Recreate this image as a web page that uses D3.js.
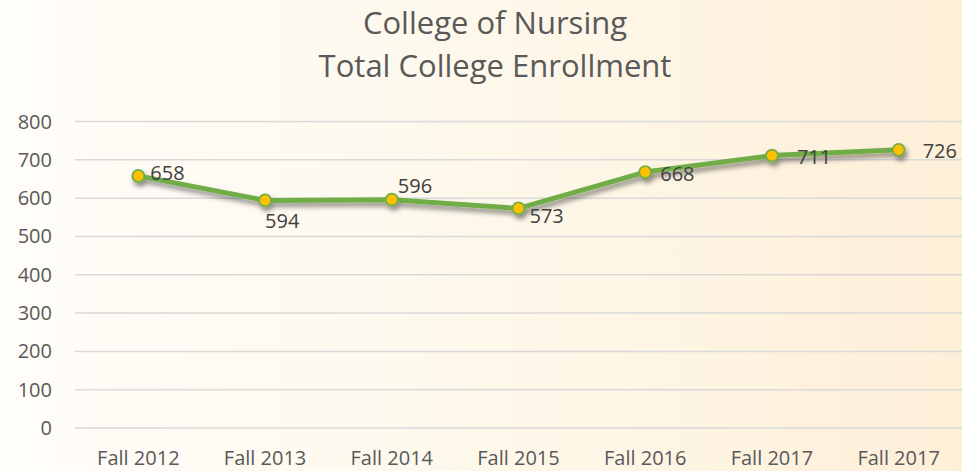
<!DOCTYPE html>
<html>
<head>
<meta charset="utf-8">
<script src="https://cdn.jsdelivr.net/npm/d3@7"></script>
<style>
  body { margin: 0; }
  svg { display: block; font-family: "Open Sans", sans-serif; }
  .grid line { stroke: #d9d9d9; stroke-width: 1.5; }
  .tick-label { fill: #595959; font-size: 20px; }
  .title { fill: #595959; font-size: 31px; }
  .value { fill: #404040; font-size: 20px; }
</style>
</head>
<body>
<svg></svg>
<script>
const categories = ["Fall 2012","Fall 2013","Fall 2014","Fall 2015","Fall 2016","Fall 2017","Fall 2017 "]
const enrollment = [658, 594, 596, 573, 668, 711, 726]
const yTicks = [0, 100, 200, 300, 400, 500, 600, 700, 800]
const titleLines = ["College of Nursing", "Total College Enrollment"]

const width = 962
const height = 471

const svg = d3.select("svg")
  .attr("width", width)
  .attr("height", height)

const defs = svg.append("defs")

const grad = defs.append("linearGradient")
  .attr("id", "bg")
  .attr("x1", "0%").attr("y1", "0%")
  .attr("x2", "100%").attr("y2", "0%")
grad.append("stop").attr("offset", "0%").attr("stop-color", "#fffdf9")
grad.append("stop").attr("offset", "50%").attr("stop-color", "#fef8eb")
grad.append("stop").attr("offset", "100%").attr("stop-color", "#feefd8")

const shadow = defs.append("filter")
  .attr("id", "shadow")
  .attr("x", "-10%").attr("y", "-50%")
  .attr("width", "120%").attr("height", "200%")
shadow.append("feDropShadow")
  .attr("dx", 2).attr("dy", 4)
  .attr("stdDeviation", 2.6)
  .attr("flood-color", "#000")
  .attr("flood-opacity", 0.45)

svg.append("rect")
  .attr("width", width)
  .attr("height", height)
  .attr("fill", "url(#bg)")

const x = d3.scaleBand()
  .domain(categories)
  .range([75, 962])

const y = d3.scaleLinear()
  .domain([0, 800])
  .range([428, 121.5])

// title
svg.selectAll("text.title")
  .data(titleLines)
  .enter().append("text")
  .attr("class", "title")
  .attr("x", 495)
  .attr("y", (d,i) => 34 + i * 43)
  .attr("text-anchor", "middle")
  .text(d => d)

// gridlines
svg.append("g")
  .attr("class", "grid")
  .selectAll("line")
  .data(yTicks)
  .enter().append("line")
  .attr("x1", 75)
  .attr("x2", 962)
  .attr("y1", d => y(d))
  .attr("y2", d => y(d))

// y labels
svg.selectAll("text.ylab")
  .data(yTicks)
  .enter().append("text")
  .attr("class", "tick-label ylab")
  .attr("x", 52)
  .attr("y", d => y(d))
  .attr("dy", "0.35em")
  .attr("text-anchor", "end")
  .text(d => d)

// x labels
svg.selectAll("text.xlab")
  .data(categories)
  .enter().append("text")
  .attr("class", "tick-label xlab")
  .attr("x", d => x(d) + x.bandwidth() / 2)
  .attr("y", 465)
  .attr("text-anchor", "middle")
  .text(d => d.trim())

const px = (d,i) => x(categories[i]) + x.bandwidth() / 2

const line = d3.line()
  .x((d,i) => px(d,i))
  .y(d => y(d))

const series = svg.append("g").attr("filter", "url(#shadow)")

series.append("path")
  .datum(enrollment)
  .attr("d", line)
  .attr("fill", "none")
  .attr("stroke", "#70ad47")
  .attr("stroke-width", 5)
  .attr("stroke-linejoin", "round")
  .attr("stroke-linecap", "round")

series.selectAll("circle")
  .data(enrollment)
  .enter().append("circle")
  .attr("cx", (d,i) => px(d,i))
  .attr("cy", d => y(d))
  .attr("r", 6)
  .attr("fill", "#ffc000")
  .attr("stroke", "#70ad47")
  .attr("stroke-width", 1.8)

// label placement, offsets from each point (left edge, baseline)
const labelOffset = [[12, 4], [0, 28], [6, -7], [11, 15], [15, 9], [25, 8], [24, 8]]

svg.selectAll("text.value")
  .data(enrollment)
  .enter().append("text")
  .attr("class", "value")
  .attr("x", (d,i) => px(d,i) + labelOffset[i][0])
  .attr("y", (d,i) => y(d) + labelOffset[i][1])
  .text(d => d)
</script>
</body>
</html>
